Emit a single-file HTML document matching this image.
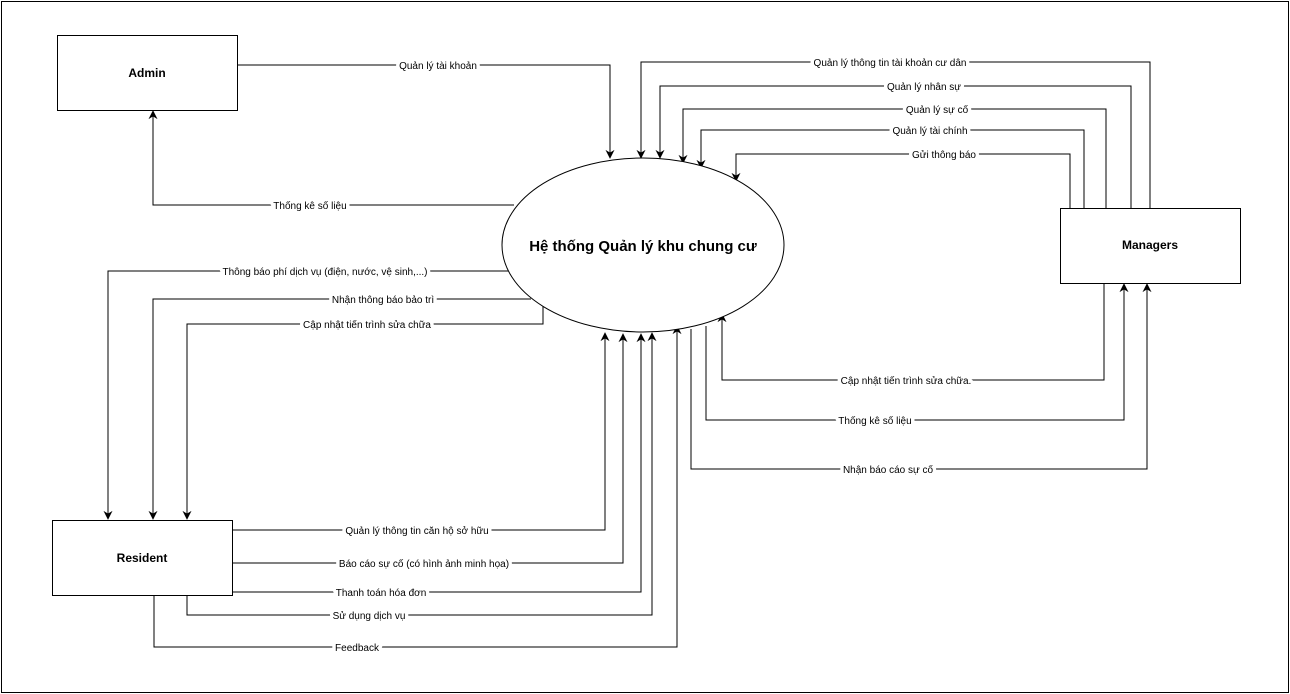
<!DOCTYPE html>
<html><head><meta charset="utf-8"><style>
html,body{margin:0;padding:0;background:#fff;}
svg{display:block;}
text{font-family:"Liberation Sans","Noto Sans CJK SC",sans-serif;font-size:10px;fill:#000;}
.lb text{paint-order:stroke;stroke:#fff;stroke-width:7px;stroke-linejoin:round;}
.b{font-weight:bold;font-size:12px;}
</style></head><body>
<svg width="1290" height="694" viewBox="0 0 1290 694" xmlns="http://www.w3.org/2000/svg">
<defs><marker id="a" viewBox="0 0 10 10" refX="9" refY="5" markerWidth="10" markerHeight="9" orient="auto" markerUnits="userSpaceOnUse"><path d="M0,0 L10,5 L0,10 L3,5 z" fill="#000"/></marker></defs>
<rect x="1.5" y="1.5" width="1287" height="691" fill="#fff" stroke="#000"/>
<g fill="none" stroke="#000" stroke-width="1">
<polyline points="238,65 610,65 610,158" marker-end="url(#a)"/>
<polyline points="514,205 153,205 153,111" marker-end="url(#a)"/>
<polyline points="1150,208 1150,62 641,62 641,158" marker-end="url(#a)"/>
<polyline points="1131,208 1131,86 660,86 660,158" marker-end="url(#a)"/>
<polyline points="1106,208 1106,109 683,109 683,163" marker-end="url(#a)"/>
<polyline points="1084,208 1084,130 701,130 701,168" marker-end="url(#a)"/>
<polyline points="1070,208 1070,154 736,154 736,181" marker-end="url(#a)"/>
<polyline points="511,271 108,271 108,519" marker-end="url(#a)"/>
<polyline points="531,299 153,299 153,519" marker-end="url(#a)"/>
<polyline points="543,306 543,324 187,324 187,519" marker-end="url(#a)"/>
<polyline points="233,530 605,530 605,333" marker-end="url(#a)"/>
<polyline points="233,563 623,563 623,334" marker-end="url(#a)"/>
<polyline points="233,592 641,592 641,334" marker-end="url(#a)"/>
<polyline points="187,595 187,615 652,615 652,333" marker-end="url(#a)"/>
<polyline points="154,595 154,647 677,647 677,326" marker-end="url(#a)"/>
<polyline points="1104,283 1104,380 722,380 722,314" marker-end="url(#a)"/>
<polyline points="706,326 706,420 1124,420 1124,284" marker-end="url(#a)"/>
<polyline points="691,329 691,469 1147,469 1147,284" marker-end="url(#a)"/>
</g>
<ellipse cx="643" cy="245" rx="141" ry="87" fill="#fff" stroke="#000"/>
<text x="643" y="251" text-anchor="middle" style="font-weight:bold;font-size:15px">Hệ thống Quản lý khu chung cư</text>
<rect x="57.5" y="35.5" width="180" height="75" fill="#fff" stroke="#000"/>
<text x="147" y="77" text-anchor="middle" class="b">Admin</text>
<rect x="52.5" y="520.5" width="180" height="75" fill="#fff" stroke="#000"/>
<text x="142" y="562" text-anchor="middle" class="b">Resident</text>
<rect x="1060.5" y="208.5" width="180" height="75" fill="#fff" stroke="#000"/>
<text x="1150" y="249" text-anchor="middle" class="b">Managers</text>
<g text-anchor="middle" class="lb">
<text x="438" y="69">Quản lý tài khoản</text>
<text x="310" y="209">Thống kê số liệu</text>
<text x="890" y="66">Quản lý thông tin tài khoản cư dân</text>
<text x="924" y="90">Quản lý nhân sự</text>
<text x="937" y="113">Quản lý sự cố</text>
<text x="930" y="134">Quản lý tài chính</text>
<text x="944" y="158">Gửi thông báo</text>
<text x="325" y="275">Thông báo phí dịch vụ (điện, nước, vệ sinh,...)</text>
<text x="383" y="303">Nhận thông báo bảo trì</text>
<text x="367" y="328">Cập nhật tiến trình sửa chữa</text>
<text x="417" y="534">Quản lý thông tin căn hộ sở hữu</text>
<text x="424" y="567">Báo cáo sự cố (có hình ảnh minh họa)</text>
<text x="381" y="596">Thanh toán hóa đơn</text>
<text x="369" y="619">Sử dụng dịch vụ</text>
<text x="357" y="651">Feedback</text>
<text x="906" y="384">Cập nhật tiến trình sửa chữa.</text>
<text x="875" y="424">Thống kê số liệu</text>
<text x="888" y="473">Nhận báo cáo sự cố</text>
</g>
</svg>
</body></html>
